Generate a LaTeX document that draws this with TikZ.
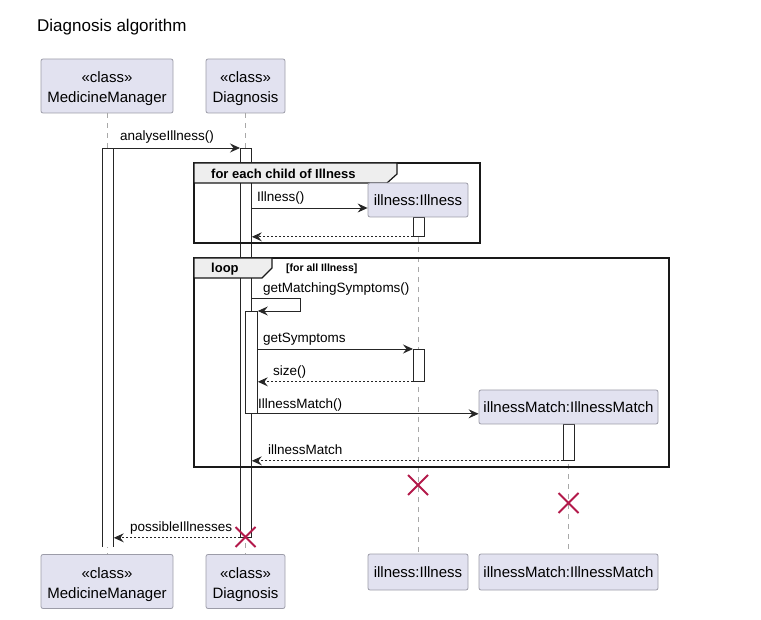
\documentclass[tikz,border=0pt]{standalone}
\usepackage{fontspec}
\setmainfont{Liberation Sans}
\usetikzlibrary{arrows.meta}

\definecolor{partfill}{HTML}{E2E2F0}
\definecolor{partdraw}{HTML}{9C9CA8}
\definecolor{lifegray}{HTML}{A8A8A8}
\definecolor{tabfill}{HTML}{EEEEEE}
\definecolor{killred}{HTML}{B3194A}

\newcommand{\stereotype}{\rule{0pt}{17pt}«class»}

\tikzset{
  participant/.style={draw=partdraw, fill=partfill, rounded corners=2pt, align=center,
    font=\fontsize{15}{20}\selectfont, inner sep=0pt, line width=0.8pt},
  actbar/.style={draw=black!85, fill=white, line width=0.8pt, inner sep=0pt,
    minimum width=11pt, anchor=north west},
  lifeline/.style={draw=lifegray, dash pattern=on 5pt off 5pt, line width=0.9pt},
  msg/.style={draw=black!85, line width=0.9pt, -{Stealth[length=10pt,width=9pt,inset=3.5pt]}},
  reply/.style={msg, dash pattern=on 2pt off 2pt},
  msglabel/.style={font=\fontsize{13.5}{15}\selectfont, anchor=base west, inner sep=0pt},
  frame/.style={draw=black!90, line width=1.6pt},
  tab/.style={draw=black!90, fill=tabfill, line width=1.2pt},
  tablabel/.style={font=\bfseries\fontsize{13}{15}\selectfont, anchor=base west, inner sep=0pt},
  kill/.style={draw=killred, line width=1.8pt},
}

\begin{document}
\begin{tikzpicture}[x=1pt, y=-1pt]
  \useasboundingbox (0,0) rectangle (761,620);

  \node[font=\fontsize{17}{19}\selectfont, anchor=base west, inner sep=0pt] (title) at (37,32) {Diagnosis algorithm};

  % participants
  \node[participant, minimum width=132pt, minimum height=54pt] (mmTop) at (107,86) {\stereotype\\MedicineManager};
  \node[participant, minimum width=79pt, minimum height=54pt] (dgTop) at (245.5,86) {\stereotype\\Diagnosis};
  \node[participant, minimum width=132pt, minimum height=54pt] (mmBot) at (107,581.5) {\stereotype\\MedicineManager};
  \node[participant, minimum width=79pt, minimum height=54pt] (dgBot) at (245.5,581.5) {\stereotype\\Diagnosis};
  \node[participant, minimum width=100pt, minimum height=36pt] (ilBot) at (418,572) {illness:Illness};
  \node[participant, minimum width=179pt, minimum height=36pt] (imBot) at (568.5,572) {illnessMatch:IllnessMatch};

  % lifelines
  \draw[lifeline] (mmTop.south) -- (mmBot.north);
  \draw[lifeline] (dgTop.south) -- (dgBot.north);
  \draw[lifeline] (418,217) -- (ilBot.north);
  \draw[lifeline] (568.5,424) -- (imBot.north);

  % activations
  \coordinate (mmBarEnd) at (102,547);
  \coordinate (mmBarEndR) at (113,547);
  \fill[white] (102,148) rectangle (mmBarEndR);
  \draw[black!85, line width=0.8pt] (mmBarEnd) -- (102,148) -- (113,148) -- (mmBarEndR);
  \node[actbar, minimum height=0pt, minimum width=11pt] (mmBar) at (102,148) {};
  \node[actbar, minimum height=389pt] (dgBar) at (240,148) {};
  \node[actbar, minimum width=12pt, minimum height=102pt] (dgSub) at (245,311) {};
  \node[actbar, minimum height=19pt] (ilBar1) at (413,217) {};
  \node[actbar, minimum height=32pt] (ilBar2) at (413,349) {};
  \node[actbar, minimum height=36pt] (imBar) at (563,424) {};

  % frames
  \draw[frame] (194,163) rectangle (480,243);
  \draw[tab] (194,163) -- (397,163) -- (397,174) -- (387,183) -- (194,183) -- cycle;
  \node[tablabel] (forLabel) at (211,178.5) {for each child of Illness};

  \draw[frame] (194,258) rectangle (669,467);
  \draw[tab] (194,258) -- (272,258) -- (272,268) -- (262,278) -- (194,278) -- cycle;
  \node[tablabel] (loopLabel) at (211,273) {loop};
  \node[tablabel, font=\bfseries\fontsize{10.5}{12}\selectfont] (loopCond) at (286,272) {[for all Illness]};

  % created participants
  \node[participant, minimum width=100pt, minimum height=34pt] (ilTop) at (418,200) {illness:Illness};
  \node[participant, minimum width=179pt, minimum height=34pt] (imTop) at (568.5,407) {illnessMatch:IllnessMatch};

  % messages
  \draw[msg] (mmBar.north east) -- (dgBar.north west);
  \node[msglabel] (mAnalyse) at (120,141) {analyseIllness()};

  \coordinate (illFrom) at (251,208);
  \draw[msg] (illFrom) -- (illFrom -| ilTop.west);
  \node[msglabel] (mIllness) at (257,201.5) {Illness()};

  \draw[reply] (ilBar1.south west) -- (ilBar1.south west -| dgBar.east);

  \coordinate (selfA) at (251,298);
  \coordinate (selfB) at (300,298);
  \coordinate (selfC) at (300,311);
  \draw[msg] (selfA) -- (selfB) -- (selfC) -- (dgSub.north east);
  \node[msglabel] (mMatching) at (263,292.5) {getMatchingSymptoms()};

  \draw[msg] (dgSub.east |- ilBar2.north) -- (ilBar2.north west);
  \node[msglabel] (mGetSym) at (263,343) {getSymptoms};

  \draw[reply] (ilBar2.south west) -- (ilBar2.south west -| dgSub.east);
  \node[msglabel] (mSize) at (273,376) {size()};

  \draw[msg] (dgSub.south east) -- (dgSub.south east -| imTop.west);
  \node[msglabel] (mMatch) at (258,409) {IllnessMatch()};

  \draw[reply] (imBar.south west) -- (imBar.south west -| dgBar.east);
  \node[msglabel] (mMatchRet) at (268,454) {illnessMatch};

  \draw[reply] (dgBar.south west) -- (dgBar.south west -| mmBar.east);
  \node[msglabel] (mPossible) at (130,531.5) {possibleIllnesses};

  % destroys
  \foreach \cx/\cy in {418/485, 568.5/503, 245.5/537}{
    \draw[kill] (\cx-10,\cy-10) -- (\cx+10,\cy+10) (\cx-10,\cy+10) -- (\cx+10,\cy-10);
  }
\end{tikzpicture}
\end{document}
